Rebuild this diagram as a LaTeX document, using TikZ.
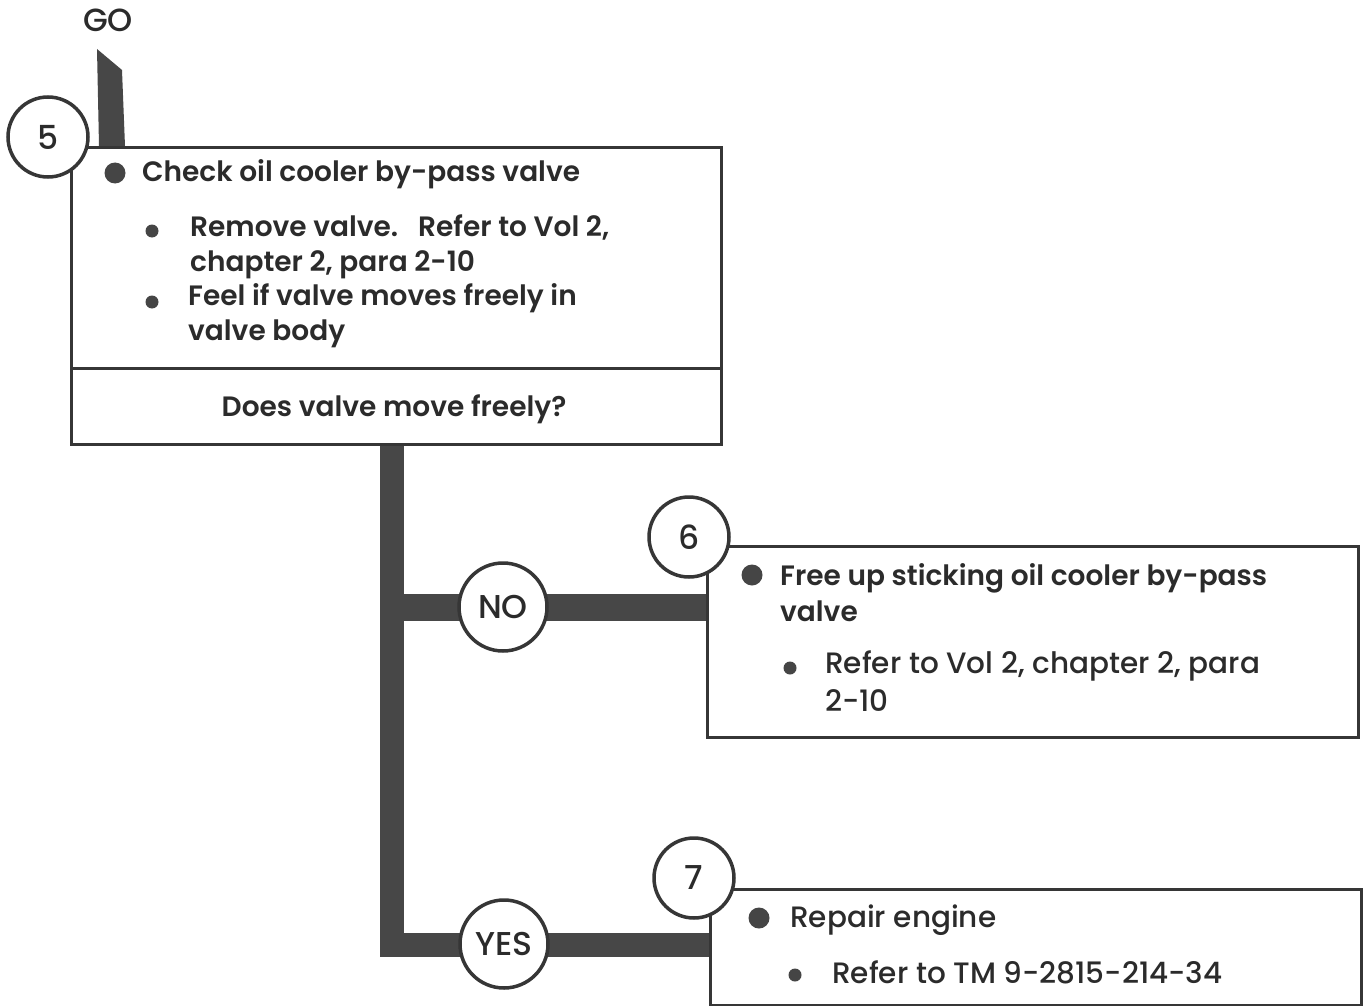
\documentclass[tikz,border=0pt]{standalone}
\usepackage{fontspec}
\setmainfont{Poppins}[UprightFont=* Medium]
\newfontfamily\medfont{Poppins}[UprightFont=* SemiBold]
\definecolor{ink}{HTML}{363636}
\definecolor{barc}{HTML}{474747}
\definecolor{inkt}{HTML}{2B2B2B}
\definecolor{dotc}{HTML}{454545}
\begin{document}
\begin{tikzpicture}[x=1pt,y=-1pt,
  box/.style={draw=ink, line width=3pt, fill=white, anchor=north west, inner sep=0pt},
  circ/.style={circle, draw=ink, line width=3.5pt, fill=white, inner sep=0pt,
    minimum size=#1, font=\fontsize{33}{33}\selectfont, text=inkt},
  circ/.default=80pt,
  bar/.style={draw=barc, line width=#1, line join=miter},
  medtxt/.style={anchor=base west, inner sep=0pt, text=inkt, font=\medfont\fontsize{28}{28}\selectfont},
  regtxt/.style={anchor=base west, inner sep=0pt, text=inkt, font=\fontsize{29.5}{29.5}\selectfont},
  bigdot/.style={circle, fill=dotc, inner sep=0pt, minimum size=21pt},
  smalldot/.style={circle, fill=dotc, inner sep=0pt, minimum size=13pt}
]
\fill[white] (0,0) rectangle (1368,1006);
\useasboundingbox (0,0) rectangle (1368,1006);

% GO start
\node[anchor=base, inner sep=0pt, text=inkt, font=\fontsize{32}{32}\selectfont] (go) at (108,32) {GO};

% boxes
\node[box, minimum width=650pt, minimum height=297pt] (box5) at (70,146) {};
\node[box, minimum width=651pt, minimum height=191pt] (box6) at (706,545) {};
\node[box, minimum width=651pt, minimum height=116pt] (box7) at (709,888) {};
\draw[draw=ink, line width=3pt] (box5.west |- 0,368) -- (box5.east |- 0,368);

% GO stem
\coordinate (stemtop) at (97,49);
\fill[barc] (stemtop) -- (122,70) -- (125,0 |- box5.north) -- (99,0 |- box5.north) -- cycle;

% connectors
\coordinate (jno) at (392,607);
\coordinate (jyes) at (392,945);
\draw[bar=24pt] (box5.south -| jno) -- (jyes) -- (box7.west |- jyes);
\draw[bar=27pt] (jno) -- (box6.west |- jno);

% circles
\node[circ] (c5) at (48,137) {5};
\node[circ] (c6) at (689,537) {6};
\node[circ] (c7) at (694,878) {7};
\node[circ=88pt] (no) at (503,607) {NO};
\node[circ=88pt] (yes) at (504,944) {YES};

% box 5 content
\node[bigdot] (d51) at (115,173) {};
\node[medtxt] (t51) at (142,182) {Check oil cooler by-pass valve};
\node[smalldot] (d52) at (152,231) {};
\node[medtxt] (t52) at (190,236) {Remove valve.\ \ \ Refer to Vol 2,};
\node[medtxt] (t53) at (190,271) {chapter 2, para 2-10};
\node[smalldot] (d53) at (152,302) {};
\node[medtxt] (t54) at (188,305) {Feel if valve moves freely in};
\node[medtxt] (t55) at (188,340) {valve body};
\node[anchor=base, inner sep=0pt, text=inkt, font=\medfont\fontsize{28}{28}\selectfont] (q5) at (394,416) {Does valve move freely?};

% box 6 content
\node[bigdot] (d61) at (752,575) {};
\node[medtxt] (t61) at (780,585) {Free up sticking oil cooler by-pass};
\node[medtxt] (t62) at (780,621) {valve};
\node[smalldot] (d62) at (790,668) {};
\node[regtxt] (t63) at (825,673) {Refer to Vol 2, chapter 2, para};
\node[regtxt] (t64) at (825,711) {2-10};

% box 7 content
\node[bigdot] (d71) at (759,918) {};
\node[regtxt] (t71) at (790,927) {Repair engine};
\node[smalldot] (d72) at (795,975) {};
\node[regtxt] (t72) at (832,983) {Refer to TM 9-2815-214-34};
\end{tikzpicture}
\end{document}
